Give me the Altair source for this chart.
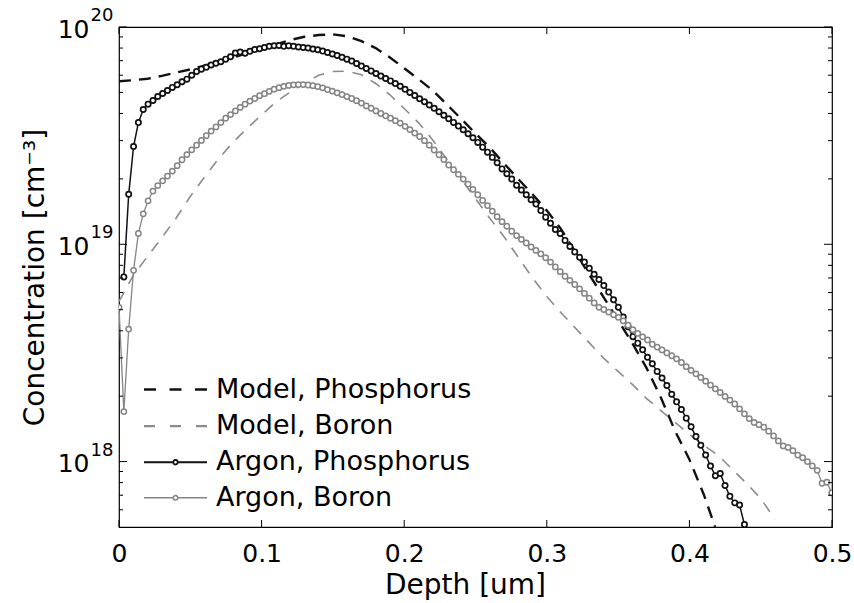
import altair as alt
import pandas as pd

# ---------------- data ----------------
series_names = ["Model, Phosphorus", "Model, Boron", "Argon, Phosphorus", "Argon, Boron"]

model_p_depth = [0.00, 0.01, 0.02, 0.03, 0.04, 0.05, 0.06, 0.07, 0.08, 0.09,
                 0.10, 0.11, 0.12, 0.13, 0.14, 0.15, 0.16, 0.17, 0.18, 0.19,
                 0.20, 0.21, 0.22, 0.23, 0.24, 0.25, 0.26, 0.27, 0.28, 0.29,
                 0.30, 0.31, 0.32, 0.33, 0.34, 0.35, 0.36, 0.37, 0.38, 0.39,
                 0.40, 0.41, 0.418]
model_p_log10 = [19.750, 19.755, 19.762, 19.775, 19.790, 19.805, 19.822, 19.840, 19.860, 19.880,
                 19.900, 19.920, 19.940, 19.955, 19.963, 19.966, 19.957, 19.935, 19.903, 19.860,
                 19.810, 19.760, 19.708, 19.643, 19.577, 19.510, 19.445, 19.372, 19.300, 19.230,
                 19.155, 19.070, 18.965, 18.858, 18.755, 18.650, 18.545, 18.430, 18.295, 18.140,
                 18.010, 17.850, 17.700]

model_b_depth = [0.00, 0.01, 0.02, 0.03, 0.04, 0.05, 0.06, 0.07, 0.08, 0.09,
                 0.10, 0.11, 0.12, 0.13, 0.14, 0.15, 0.16, 0.17, 0.18, 0.19,
                 0.20, 0.21, 0.22, 0.23, 0.24, 0.25, 0.26, 0.27, 0.28, 0.29,
                 0.30, 0.31, 0.32, 0.33, 0.34, 0.35, 0.36, 0.37, 0.38, 0.39,
                 0.40, 0.41, 0.42, 0.43, 0.44, 0.45, 0.46]
model_b_log10 = [18.737, 18.857, 18.944, 19.030, 19.120, 19.220, 19.310, 19.395, 19.470, 19.535,
                 19.595, 19.655, 19.700, 19.740, 19.778, 19.795, 19.797, 19.780, 19.740, 19.688,
                 19.625, 19.560, 19.480, 19.390, 19.300, 19.210, 19.120, 19.035, 18.940, 18.845,
                 18.760, 18.685, 18.615, 18.545, 18.475, 18.415, 18.355, 18.290, 18.235, 18.180,
                 18.125, 18.075, 18.030, 17.965, 17.900, 17.830, 17.735]

# measured profiles: one sample every 0.0034 um
argon_step = 0.0034
argon_p_log10 = [18.85, 19.23, 19.45, 19.56, 19.62, 19.645, 19.662, 19.68, 19.694, 19.708,
                 19.722, 19.734, 19.748, 19.76, 19.778, 19.795, 19.806, 19.815, 19.825, 19.833,
                 19.84, 19.852, 19.863, 19.88, 19.885, 19.879, 19.888, 19.896, 19.9, 19.906,
                 19.911, 19.914, 19.915, 19.911, 19.914, 19.911, 19.908, 19.906, 19.903, 19.899,
                 19.895, 19.889, 19.883, 19.876, 19.869, 19.861, 19.852, 19.843, 19.832, 19.82,
                 19.809, 19.798, 19.786, 19.774, 19.763, 19.752, 19.74, 19.727, 19.713, 19.699,
                 19.685, 19.67, 19.656, 19.641, 19.626, 19.61, 19.594, 19.578, 19.561, 19.544,
                 19.527, 19.509, 19.49, 19.469, 19.447, 19.424, 19.4, 19.375, 19.347, 19.325,
                 19.3, 19.272, 19.25, 19.228, 19.205, 19.185, 19.155, 19.125, 19.097, 19.068,
                 19.05, 19.018, 18.99, 18.965, 18.94, 18.918, 18.89, 18.862, 18.838, 18.81,
                 18.78, 18.745, 18.71, 18.665, 18.62, 18.575, 18.545, 18.515, 18.48, 18.45,
                 18.415, 18.385, 18.35, 18.31, 18.275, 18.24, 18.2, 18.16, 18.115, 18.075,
                 18.03, 17.98, 17.935, 17.945, 17.89, 17.84, 17.81, 17.80, 17.71]
argon_p_first_index = 1

argon_b_log10 = [18.71, 18.23, 18.61, 18.88, 19.05, 19.14, 19.2, 19.245, 19.27, 19.292,
                 19.314, 19.337, 19.362, 19.389, 19.413, 19.435, 19.456, 19.478, 19.5, 19.521,
                 19.54, 19.56, 19.58, 19.597, 19.614, 19.63, 19.645, 19.659, 19.671, 19.684,
                 19.693, 19.704, 19.714, 19.721, 19.727, 19.731, 19.734, 19.735, 19.735, 19.733,
                 19.73, 19.726, 19.72, 19.712, 19.705, 19.697, 19.689, 19.68, 19.671, 19.661,
                 19.65, 19.637, 19.626, 19.614, 19.602, 19.591, 19.58, 19.569, 19.558, 19.543,
                 19.528, 19.512, 19.496, 19.477, 19.456, 19.434, 19.412, 19.39, 19.365, 19.343,
                 19.322, 19.3, 19.277, 19.253, 19.228, 19.202, 19.178, 19.153, 19.127, 19.104,
                 19.083, 19.06, 19.04, 19.023, 19.006, 18.988, 18.972, 18.956, 18.938, 18.918,
                 18.896, 18.874, 18.853, 18.834, 18.815, 18.795, 18.774, 18.752, 18.73, 18.71,
                 18.70, 18.688, 18.676, 18.664, 18.648, 18.628, 18.607, 18.59, 18.574, 18.56,
                 18.54, 18.527, 18.514, 18.50, 18.487, 18.473, 18.456, 18.437, 18.42, 18.404,
                 18.387, 18.37, 18.352, 18.335, 18.318, 18.3, 18.283, 18.265, 18.243, 18.22,
                 18.198, 18.18, 18.17, 18.158, 18.14, 18.118, 18.095, 18.072, 18.065, 18.05,
                 18.03, 18.018, 18.0, 17.98, 17.96, 17.90, 17.905, 17.856]
argon_b_first_index = 0

x_tick_values = [0.0, 0.1, 0.2, 0.3, 0.4, 0.5]
y_major_ticks = [1e18, 1e19, 1e20]
y_exponent_labels = ["18", "19", "20"]
y_minor_ticks = [6e17, 7e17, 8e17, 9e17,
                 2e18, 3e18, 4e18, 5e18, 6e18, 7e18, 8e18, 9e18,
                 2e19, 3e19, 4e19, 5e19, 6e19, 7e19, 8e19, 9e19]

# ---------------- tables ----------------
def table(depths, logs):
    return pd.DataFrame({"depth": depths, "conc": [10 ** v for v in logs]})

df_mp = table(model_p_depth, model_p_log10)
df_mb = table(model_b_depth, model_b_log10)
df_ap = table([round(argon_step * (i + argon_p_first_index), 4) for i in range(len(argon_p_log10))], argon_p_log10)
df_ab = table([round(argon_step * (i + argon_b_first_index), 4) for i in range(len(argon_b_log10))], argon_b_log10)

W, H = 713, 500
FONT = "DejaVu Sans"
BLACK = "#111111"
GREY_LINE = "#858585"
GREY_DASH = "#8c8c8c"

xscale = alt.Scale(domain=[0, 0.5], nice=False, zero=False)
yscale = alt.Scale(type="log", domain=[5e17, 1e20], nice=False)

x_axis = alt.Axis(values=x_tick_values, ticks=False, domain=False, grid=False,
                  labelExpr="datum.value == 0 ? '0' : format(datum.value, '.1f')",
                  labelFont=FONT, labelFontSize=25, labelColor="black", labelPadding=14,
                  labelFlush=False, labelOverlap=False,
                  title="Depth [um]", titleFont=FONT, titleFontSize=28, titleFontWeight="normal",
                  titleColor="black", titleX=346, titleY=66, titleBaseline="alphabetic",
                  titleAlign="center", titleAnchor="middle")
y_axis = alt.Axis(values=y_major_ticks, ticks=False, domain=False, grid=False,
                  labelExpr="'10'", labelFont=FONT, labelFontSize=25, labelColor="black",
                  labelPadding=30, labelOffset=2, labelFlush=False, labelOverlap=False,
                  title="Concentration [cm\u207b\u00b3]", titleFont=FONT, titleFontSize=28,
                  titleFontWeight="normal", titleColor="black", titleX=-76, titleY=250,
                  titleBaseline="alphabetic", titleAlign="center", titleAngle=270)

X = alt.X("depth:Q", scale=xscale, axis=x_axis)
Y = alt.Y("conc:Q", scale=yscale, axis=y_axis)
Xp = alt.X("depth:Q", scale=xscale)
Yp = alt.Y("conc:Q", scale=yscale)

model_p = alt.Chart(df_mp).mark_line(color=BLACK, strokeWidth=2.4, strokeDash=[12, 8], clip=True).encode(x=X, y=Y)
model_b = alt.Chart(df_mb).mark_line(color=GREY_DASH, strokeWidth=1.6, strokeDash=[11, 9], clip=True).encode(x=Xp, y=Yp)
argon_p = alt.Chart(df_ap).mark_line(
    color=BLACK, strokeWidth=1.5, clip=True,
    point=alt.OverlayMarkDef(filled=False, color=BLACK, size=28, strokeWidth=1.7, fill="white",
                             opacity=1, clip=True),
).encode(x=Xp, y=Yp)
argon_b = alt.Chart(df_ab).mark_line(
    color=GREY_LINE, strokeWidth=1.3, clip=True,
    point=alt.OverlayMarkDef(filled=False, color=GREY_LINE, size=28, strokeWidth=1.5, fill="white",
                             opacity=1, clip=True),
).encode(x=Xp, y=Yp)

# inward ticks on all four sides (MATLAB box style)
df_xt = pd.DataFrame({"depth": x_tick_values})
df_ymaj = pd.DataFrame({"conc": y_major_ticks})
df_ymin = pd.DataFrame({"conc": y_minor_ticks})
tick_style = dict(color="black", strokeWidth=1)
ticks = [
    alt.Chart(df_xt).mark_rule(**tick_style).encode(x=Xp, y=alt.value(H), y2=alt.value(H - 7)),
    alt.Chart(df_xt).mark_rule(**tick_style).encode(x=Xp, y=alt.value(0), y2=alt.value(7)),
    alt.Chart(df_ymaj).mark_rule(**tick_style).encode(y=Yp, x=alt.value(0), x2=alt.value(8)),
    alt.Chart(df_ymaj).mark_rule(**tick_style).encode(y=Yp, x=alt.value(W), x2=alt.value(W - 8)),
    alt.Chart(df_ymin).mark_rule(**tick_style).encode(y=Yp, x=alt.value(0), x2=alt.value(4)),
    alt.Chart(df_ymin).mark_rule(**tick_style).encode(y=Yp, x=alt.value(W), x2=alt.value(W - 4)),
]

# superscript exponents of the y tick labels
df_exp = pd.DataFrame({"conc": y_major_ticks, "exp": y_exponent_labels})
exponents = alt.Chart(df_exp).mark_text(align="right", baseline="middle", font=FONT, fontSize=18,
                                        color="black", dy=-11).encode(
    y=Yp, x=alt.value(-5.5), text="exp:N")

# legend (built by the library from the series names)
line_path = "M-2.1,0L2.1,0"
marker_path = ("M-2.1,0L-0.15,0M0.15,0L2.1,0"
               "M-0.15,0A0.15,0.15,0,1,1,0.15,0A0.15,0.15,0,1,1,-0.15,0")
df_leg = pd.DataFrame({"series": series_names, "depth": [0.1] * 4, "conc": [1e19] * 4})
legend_layer = alt.Chart(df_leg).transform_filter("false").mark_point(
    filled=False, opacity=1, strokeOpacity=1).encode(
    x=Xp, y=Yp,
    color=alt.Color("series:N", scale=alt.Scale(domain=series_names,
                                                range=[BLACK, GREY_DASH, BLACK, GREY_LINE]),
                    legend=alt.Legend(orient="none", legendX=40, legendY=346, title=None,
                                      labelFont=FONT, labelFontSize=27, labelColor="black",
                                      labelLimit=500, symbolSize=900, labelOffset=24,
                                      rowPadding=6.6, padding=0, symbolOpacity=1)),
    strokeDash=alt.StrokeDash("series:N", scale=alt.Scale(domain=series_names,
                                                          range=[[12, 13.5], [11, 15], [1, 0], [1, 0]])),
    strokeWidth=alt.StrokeWidth("series:N", scale=alt.Scale(domain=series_names,
                                                            range=[2.4, 1.6, 1.6, 1.4])),
    shape=alt.Shape("series:N", scale=alt.Scale(domain=series_names,
                                                range=[line_path, line_path, marker_path, marker_path])),
)

chart = alt.layer(model_p, model_b, argon_p, argon_b, *ticks, exponents, legend_layer).properties(
    width=W, height=H,
    padding={"left": 119, "top": 27, "right": 22, "bottom": 76},
    autosize=alt.AutoSizeParams(type="none"),
    background="white",
).configure_view(stroke="black", strokeWidth=1.2)

chart.save("out.html", embed_options={"renderer": "svg", "actions": False})
